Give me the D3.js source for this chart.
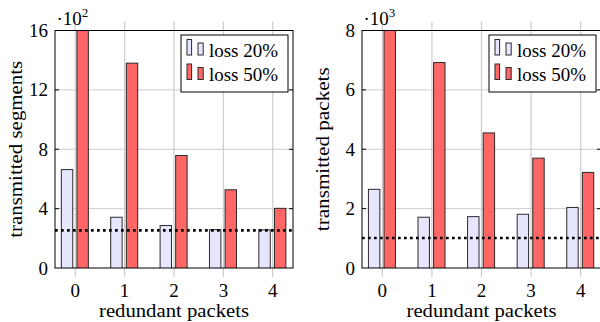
<!DOCTYPE html>
<html>
<head>
<meta charset="utf-8">
<script src="https://cdn.jsdelivr.net/npm/d3@7/dist/d3.min.js"></script>
<style>
  html, body { margin: 0; padding: 0; background: #fff; }
  svg { display: block; }
</style>
</head>
<body>
<svg id="chart" width="600" height="322"></svg>
<script>
// ---- data ----
const categories = [0, 1, 2, 3, 4];
const seriesNames = ["loss 20%", "loss 50%"];

const segLoss20 = [663, 342, 286, 258, 257];
const segLoss50 = [1600, 1380, 758, 527, 402];
const segBaseline = 254;
const segTicks = [0, 400, 800, 1200, 1600];
const segTickLabels = ["0", "4", "8", "12", "16"];

const pktLoss20 = [2650, 1710, 1730, 1810, 2040];
const pktLoss50 = [8000, 6920, 4550, 3700, 3220];
const pktBaseline = 1010;
const pktTicks = [0, 2000, 4000, 6000, 8000];
const pktTickLabels = ["0", "2", "4", "6", "8"];

// ---- styles ----
const colors = ["#e6e6ff", "#ff6666"];
const barStroke = "#2a2a2a";
const gridColor = "#cccccc";
const fontSize = 19;
const serif = "'Liberation Serif'";

const svg = d3.select("#chart");

function txt(sel) {
  return sel.style("font-family", serif).style("font-size", fontSize + "px").attr("fill", "#000");
}

function panel(cfg) {
  const left = cfg.left, right = cfg.right, top = 30.5, bottom = 268;
  const x = d3.scaleLinear().domain([-0.41, 4.41]).range([left, right]);
  const y = d3.scaleLinear().domain([0, cfg.ticks[cfg.ticks.length - 1]]).range([bottom, top]);
  const g = svg.append("g");
  const clipId = "clip" + cfg.id;
  svg.append("clipPath").attr("id", clipId)
    .append("rect").attr("x", left).attr("y", top).attr("width", right - left).attr("height", bottom - top);

  // horizontal grid
  g.selectAll(".hg").data(cfg.ticks.slice(1, -1)).join("line")
    .attr("x1", left).attr("x2", right)
    .attr("y1", d => y(d)).attr("y2", d => y(d))
    .attr("stroke", gridColor).attr("stroke-width", 1);
  // vertical grid (extends beyond box as ticks)
  g.selectAll(".vg").data(categories).join("line")
    .attr("x1", d => x(d)).attr("x2", d => x(d))
    .attr("y1", top - 9).attr("y2", bottom + 9)
    .attr("stroke", gridColor).attr("stroke-width", 1.2);

  // bars
  const barW = 11.4;
  const offsets = [-8.2, 7.4];
  const series = [cfg.s1, cfg.s2];
  const bars = g.append("g").attr("clip-path", `url(#${clipId})`);
  series.forEach((vals, si) => {
    bars.selectAll(".b" + si).data(vals).join("rect")
      .attr("x", (d, i) => x(categories[i]) + offsets[si] - barW / 2)
      .attr("width", barW)
      .attr("y", d => y(d))
      .attr("height", d => bottom - y(d) + 0.5)
      .attr("fill", colors[si])
      .attr("stroke", barStroke).attr("stroke-width", 1);
  });

  // baseline dotted
  g.append("line")
    .attr("x1", left).attr("x2", right)
    .attr("y1", y(cfg.base)).attr("y2", y(cfg.base))
    .attr("stroke", "#000").attr("stroke-width", 2.7)
    .attr("stroke-dasharray", "2.7 3.3");

  // box
  g.append("rect").attr("x", left).attr("y", top).attr("width", right - left).attr("height", bottom - top)
    .attr("fill", "none").attr("stroke", "#000").attr("stroke-width", 1);

  // y ticks inside
  cfg.ticks.slice(1, -1).forEach(t => {
    g.append("line").attr("x1", left).attr("x2", left + 4).attr("y1", y(t)).attr("y2", y(t))
      .attr("stroke", "#000").attr("stroke-width", 1);
    g.append("line").attr("x1", right - 4).attr("x2", right).attr("y1", y(t)).attr("y2", y(t))
      .attr("stroke", "#000").attr("stroke-width", 1);
  });

  // y tick labels
  txt(g.selectAll(".yl").data(cfg.ticks).join("text"))
    .attr("x", left - 7).attr("y", d => y(d) + 6.5)
    .attr("text-anchor", "end")
    .text((d, i) => cfg.tickLabels[i]);

  // x tick labels
  txt(g.selectAll(".xl").data(categories).join("text"))
    .attr("x", d => x(d)).attr("y", 297)
    .attr("text-anchor", "middle")
    .text(d => d);

  // x label
  txt(g.append("text")).attr("x", (left + right) / 2).attr("y", 316.5)
    .attr("text-anchor", "middle")
    .attr("textLength", 150).attr("lengthAdjust", "spacingAndGlyphs")
    .text("redundant packets");

  // y label
  txt(g.append("text"))
    .attr("transform", `translate(${left - 33},${(top + bottom) / 2}) rotate(-90)`)
    .attr("text-anchor", "middle")
    .attr("textLength", cfg.ylabelLen).attr("lengthAdjust", "spacingAndGlyphs")
    .text(cfg.ylabel);

  // scale label
  const sl = txt(g.append("text")).attr("x", left + 1.5).attr("y", 25);
  sl.append("tspan").text("·10");
  sl.append("tspan").style("font-size", "13px").attr("dy", -8).text(cfg.exp);

  // legend
  const lw = 107, lh = 57;
  const lx = right - 5 - lw, ly = top + 4.5;
  const lg = g.append("g");
  lg.append("rect").attr("x", lx).attr("y", ly).attr("width", lw).attr("height", lh)
    .attr("fill", "#fff").attr("stroke", "#000").attr("stroke-width", 1);
  seriesNames.forEach((name, i) => {
    const base = ly + 20 + i * 24.5;
    lg.append("rect").attr("x", lx + 6).attr("y", base - 15.5).attr("width", 4.6).attr("height", 15.5)
      .attr("fill", colors[i]).attr("stroke", barStroke).attr("stroke-width", 1);
    lg.append("rect").attr("x", lx + 17).attr("y", base - 12).attr("width", 5.2).attr("height", 12)
      .attr("fill", colors[i]).attr("stroke", barStroke).attr("stroke-width", 1);
    txt(lg.append("text")).attr("x", lx + 28).attr("y", base + 1.5)
      .attr("textLength", 69).attr("lengthAdjust", "spacingAndGlyphs")
      .text(name);
  });
}

panel({ id: "a", left: 55, right: 293, s1: segLoss20, s2: segLoss50, base: segBaseline,
        ticks: segTicks, tickLabels: segTickLabels, ylabel: "transmitted segments", ylabelLen: 177, exp: "2" });
panel({ id: "b", left: 362, right: 601, s1: pktLoss20, s2: pktLoss50, base: pktBaseline,
        ticks: pktTicks, tickLabels: pktTickLabels, ylabel: "transmitted packets", ylabelLen: 164, exp: "3" });
</script>
</body>
</html>
